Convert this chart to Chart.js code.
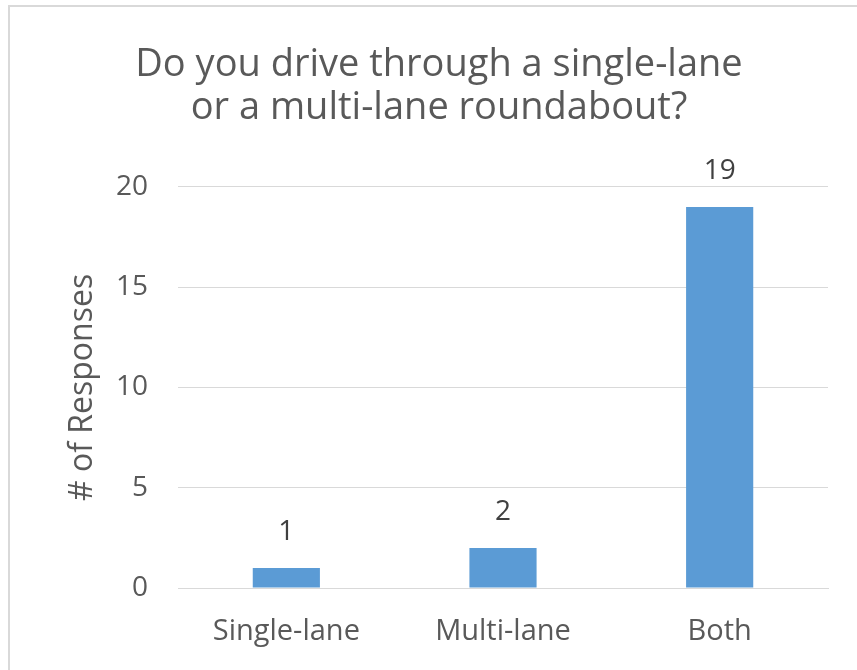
<!DOCTYPE html>
<html>
<head>
<meta charset="utf-8">
<script src="https://cdn.jsdelivr.net/npm/chart.js@4/dist/chart.umd.min.js"></script>
<style>
  html, body { margin: 0; padding: 0; background: #fff; overflow: hidden; }
  #frame { position: absolute; left: 8px; top: 5px; width: 900px; height: 720px; border: 2px solid #d9d9d9; box-sizing: border-box; }
  #wrap { position: absolute; left: 0; top: 0; width: 857px; height: 670px; }
</style>
</head>
<body>
<div id="frame"></div>
<div id="wrap"><canvas id="c" width="857" height="670"></canvas></div>
<script>
const categories = ["Single-lane", "Multi-lane", "Both"];
const responses = [1, 2, 19];
const yTicks = [0, 5, 10, 15, 20];
const titleLines = ["Do you drive through a single-lane", "or a multi-lane roundabout?"];
const yAxisTitle = "# of Responses";

const FONT = "'Open Sans', sans-serif";

const valueLabels = {
  id: 'valueLabels',
  afterDatasetsDraw(chart) {
    const ctx = chart.ctx;
    const meta = chart.getDatasetMeta(0);
    ctx.save();
    ctx.font = "28px " + FONT;
    ctx.fillStyle = "#404040";
    ctx.textAlign = "center";
    ctx.textBaseline = "middle";
    meta.data.forEach((bar, i) => {
      ctx.fillText(String(chart.data.datasets[0].data[i]), bar.x, bar.y - 36);
    });
    ctx.restore();
  }
};

new Chart(document.getElementById('c'), {
  type: 'bar',
  data: {
    labels: categories,
    datasets: [{
      data: responses,
      backgroundColor: '#5B9BD5',
      categoryPercentage: 0.31,
      barPercentage: 1.0
    }]
  },
  options: {
    responsive: false,
    animation: false,
    layout: { padding: { left: 50, right: 29, top: 0, bottom: 0 } },
    plugins: {
      legend: { display: false },
      tooltip: { enabled: false },
      title: {
        display: true,
        text: titleLines,
        color: '#595959',
        font: { family: FONT, size: 38, weight: 'normal', lineHeight: 1.13 },
        padding: { top: 44, bottom: 57 }
      }
    },
    scales: {
      x: {
        grid: { display: false, drawTicks: false },
        border: { display: true, color: '#d9d9d9', width: 1 },
        ticks: { color: '#595959', font: { family: FONT, size: 29 }, padding: 26, maxRotation: 0 },
        afterFit(s) { s.height = 82; }
      },
      y: {
        min: 0, max: 20,
        afterBuildTicks(s) { s.ticks = yTicks.map(v => ({ value: v })); },
        grid: { color: '#d9d9d9', drawTicks: false },
        border: { display: false },
        ticks: { color: '#595959', font: { family: FONT, size: 28 }, padding: 30 },
        title: {
          display: true,
          text: yAxisTitle,
          color: '#595959',
          font: { family: FONT, size: 32, lineHeight: 1.2 },
          padding: { top: 14, bottom: 0 }
        },
        afterFit(s) { s.width = 128; }
      }
    }
  },
  plugins: [valueLabels]
});
</script>
</body>
</html>
